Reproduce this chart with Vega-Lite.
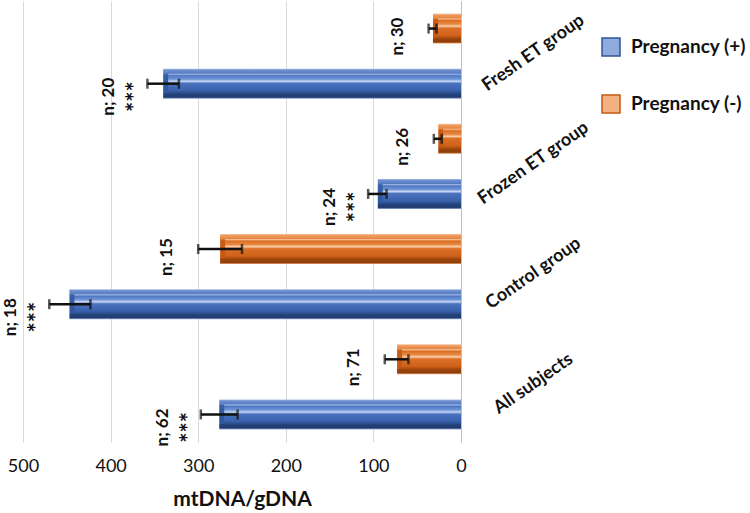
{
  "$schema": "https://vega.github.io/schema/vega-lite/v6.json",
  "width": 438,
  "height": 441,
  "autosize": "none",
  "padding": {"left": 23, "top": 1, "right": 289, "bottom": 71},
  "background": "white",
  "config": {"font": "Lato", "view": {"stroke": null}},
  "data": {
    "values": [
      {"group": "Fresh ET group", "preg": "Pregnancy (-)", "value": 32, "lo": 28, "hi": 37, "n": "n; 30", "sig": ""},
      {"group": "Fresh ET group", "preg": "Pregnancy (+)", "value": 340, "lo": 322, "hi": 358, "n": "n; 20", "sig": "***"},
      {"group": "Frozen ET group", "preg": "Pregnancy (-)", "value": 26, "lo": 22, "hi": 31, "n": "n; 26", "sig": ""},
      {"group": "Frozen ET group", "preg": "Pregnancy (+)", "value": 95, "lo": 85, "hi": 106, "n": "n; 24", "sig": "***"},
      {"group": "Control group", "preg": "Pregnancy (-)", "value": 275, "lo": 250, "hi": 300, "n": "n; 15", "sig": ""},
      {"group": "Control group", "preg": "Pregnancy (+)", "value": 447, "lo": 423, "hi": 470, "n": "n; 18", "sig": "***"},
      {"group": "All subjects", "preg": "Pregnancy (-)", "value": 73, "lo": 60, "hi": 87, "n": "n; 71", "sig": ""},
      {"group": "All subjects", "preg": "Pregnancy (+)", "value": 276, "lo": 255, "hi": 297, "n": "n; 62", "sig": "***"}
    ]
  },
  "encoding": {
    "y": {
      "field": "group",
      "type": "nominal",
      "sort": ["Fresh ET group", "Frozen ET group", "Control group", "All subjects"],
      "scale": {"paddingInner": 0, "paddingOuter": 0},
      "title": null,
      "axis": {
        "orient": "right",
        "ticks": false,
        "domain": true,
        "domainColor": "#bfbfbf",
        "domainWidth": 1,
        "labelAngle": -35,
        "labelAlign": "center",
        "labelBaseline": "middle",
        "labelPadding": 72,
        "labelOffset": -3,
        "labelFont": "Lato",
        "labelFontSize": 18,
        "labelFontWeight": "bold",
        "labelColor": "#111111",
        "labelLimit": 0,
        "labelOverlap": false,
        "grid": false
      }
    },
    "yOffset": {
      "field": "preg",
      "type": "nominal",
      "scale": {"domain": ["Pregnancy (-)", "Pregnancy (+)"], "paddingInner": 0.4545, "paddingOuter": 0.227}
    }
  },
  "layer": [
    {
      "mark": {"type": "point", "shape": "square", "filled": true, "opacity": 0},
      "encoding": {
        "x": {
          "field": "value",
          "type": "quantitative",
          "stack": null,
          "title": "mtDNA/gDNA",
          "scale": {"domain": [0, 500], "reverse": true, "nice": false, "zero": true},
          "axis": {
            "values": [0, 100, 200, 300, 400, 500],
            "grid": true,
            "gridColor": "#d9d9d9",
            "gridWidth": 1,
            "domain": false,
            "ticks": false,
            "labelFlush": false,
            "labelFont": "Lato",
            "labelFontSize": 18,
            "labelColor": "#111111",
            "labelPadding": 15,
            "titleFont": "Lato",
            "titleFontSize": 21,
            "titleFontWeight": "bold",
            "titleColor": "#111111",
            "titlePadding": 13
          }
        },
        "color": {
          "field": "preg",
          "type": "nominal",
          "scale": {"domain": ["Pregnancy (+)", "Pregnancy (-)"], "range": ["#8faadc", "#f4b183"]},
          "legend": {
            "title": null,
            "orient": "none",
            "legendX": 578,
            "legendY": 36,
            "padding": 0,
            "symbolType": "square",
            "symbolSize": 324,
            "symbolOpacity": 1,
            "symbolStrokeWidth": 1.5,
            "symbolStrokeColor": "#44546a",
            "rowPadding": 33,
            "labelOffset": 10,
            "labelFont": "Lato",
            "labelFontSize": 19,
            "labelFontWeight": "bold",
            "labelColor": "#111111",
            "labelLimit": 0,
            "encode": {
              "symbols": {
                "update": {
                  "stroke": {"signal": "datum.value == 'Pregnancy (+)' ? '#2f5597' : '#c55a11'"},
                  "opacity": {"value": 1}
                }
              }
            }
          }
        }
      }
    },
    {
      "transform": [{"filter": "datum.preg == 'Pregnancy (+)'"}],
      "mark": {
        "type": "bar",
        "size": 30,
        "color": {
          "gradient": "linear", "x1": 0, "y1": 0, "x2": 0, "y2": 1,
          "stops": [
            {"offset": 0, "color": "#a9bfe8"},
            {"offset": 0.05, "color": "#6e8fcf"},
            {"offset": 0.17, "color": "#5478c0"},
            {"offset": 0.2, "color": "#3660a8"},
            {"offset": 0.8, "color": "#30569c"},
            {"offset": 0.83, "color": "#24447e"},
            {"offset": 0.95, "color": "#1f3b6e"},
            {"offset": 1, "color": "#93abd8"}
          ]
        }
      },
      "encoding": {"x": {"field": "value", "type": "quantitative", "stack": null, "title": "mtDNA/gDNA"}}
    },
    {
      "transform": [{"filter": "datum.preg == 'Pregnancy (-)'"}],
      "mark": {
        "type": "bar",
        "size": 30,
        "color": {
          "gradient": "linear", "x1": 0, "y1": 0, "x2": 0, "y2": 1,
          "stops": [
            {"offset": 0, "color": "#f6c4a0"},
            {"offset": 0.05, "color": "#ee9a5c"},
            {"offset": 0.17, "color": "#e6843d"},
            {"offset": 0.2, "color": "#cc5d15"},
            {"offset": 0.8, "color": "#c55812"},
            {"offset": 0.83, "color": "#9c450c"},
            {"offset": 0.95, "color": "#8e3f0b"},
            {"offset": 1, "color": "#eea877"}
          ]
        }
      },
      "encoding": {"x": {"field": "value", "type": "quantitative", "stack": null, "title": "mtDNA/gDNA"}}
    },
    {
      "transform": [{"filter": "datum.preg == 'Pregnancy (+)'"}],
      "mark": {
        "type": "bar",
        "size": 20,
        "xOffset": 5,
        "x2Offset": -5,
        "color": {
          "gradient": "linear", "x1": 0, "y1": 0, "x2": 0, "y2": 1,
          "stops": [
            {"offset": 0, "color": "#b3c7ee"},
            {"offset": 0.1, "color": "#4f76c2"},
            {"offset": 0.28, "color": "#7196d8"},
            {"offset": 0.38, "color": "#c9d8f4"},
            {"offset": 0.48, "color": "#4c73bf"},
            {"offset": 0.85, "color": "#3860ab"},
            {"offset": 1, "color": "#27477f"}
          ]
        }
      },
      "encoding": {"x": {"field": "value", "type": "quantitative", "stack": null, "title": "mtDNA/gDNA"}}
    },
    {
      "transform": [{"filter": "datum.preg == 'Pregnancy (-)'"}],
      "mark": {
        "type": "bar",
        "size": 20,
        "xOffset": 5,
        "x2Offset": -5,
        "color": {
          "gradient": "linear", "x1": 0, "y1": 0, "x2": 0, "y2": 1,
          "stops": [
            {"offset": 0, "color": "#f9cfb0"},
            {"offset": 0.1, "color": "#db6e22"},
            {"offset": 0.28, "color": "#e88a44"},
            {"offset": 0.38, "color": "#fbd0ac"},
            {"offset": 0.48, "color": "#dc7028"},
            {"offset": 0.85, "color": "#cf6118"},
            {"offset": 1, "color": "#9e470e"}
          ]
        }
      },
      "encoding": {"x": {"field": "value", "type": "quantitative", "stack": null, "title": "mtDNA/gDNA"}}
    },
    {
      "mark": {"type": "rule", "color": "#111111", "strokeWidth": 2.5},
      "encoding": {
        "x": {"field": "lo", "type": "quantitative", "title": "mtDNA/gDNA"},
        "x2": {"field": "hi"}
      }
    },
    {
      "mark": {"type": "tick", "color": "#111111", "thickness": 2.5, "size": 10, "orient": "vertical"},
      "encoding": {"x": {"field": "lo", "type": "quantitative", "title": "mtDNA/gDNA"}}
    },
    {
      "mark": {"type": "tick", "color": "#111111", "thickness": 2.5, "size": 10, "orient": "vertical"},
      "encoding": {"x": {"field": "hi", "type": "quantitative", "title": "mtDNA/gDNA"}}
    },
    {
      "transform": [{"filter": "datum.sig == ''"}],
      "mark": {
        "type": "text",
        "angle": 270,
        "align": "center",
        "baseline": "bottom",
        "dx": -8,
        "dy": -22,
        "font": "Lato",
        "fontSize": 17,
        "fontWeight": "bold",
        "color": "#111111"
      },
      "encoding": {
        "x": {"field": "hi", "type": "quantitative", "title": "mtDNA/gDNA"},
        "text": {"field": "n", "type": "nominal"}
      }
    },
    {
      "transform": [{"filter": "datum.sig != ''"}],
      "mark": {
        "type": "text",
        "angle": 270,
        "align": "center",
        "baseline": "bottom",
        "dx": -13,
        "dy": -29,
        "font": "Lato",
        "fontSize": 17,
        "fontWeight": "bold",
        "color": "#111111"
      },
      "encoding": {
        "x": {"field": "hi", "type": "quantitative", "title": "mtDNA/gDNA"},
        "text": {"field": "n", "type": "nominal"}
      }
    },
    {
      "transform": [{"filter": "datum.sig != ''"}],
      "mark": {
        "type": "text",
        "angle": 270,
        "align": "center",
        "baseline": "middle",
        "dx": -13,
        "dy": -10,
        "font": "Lato",
        "fontSize": 24,
        "fontWeight": "bold",
        "color": "#111111"
      },
      "encoding": {
        "x": {"field": "hi", "type": "quantitative", "title": "mtDNA/gDNA"},
        "text": {"field": "sig", "type": "nominal"}
      }
    }
  ]
}
